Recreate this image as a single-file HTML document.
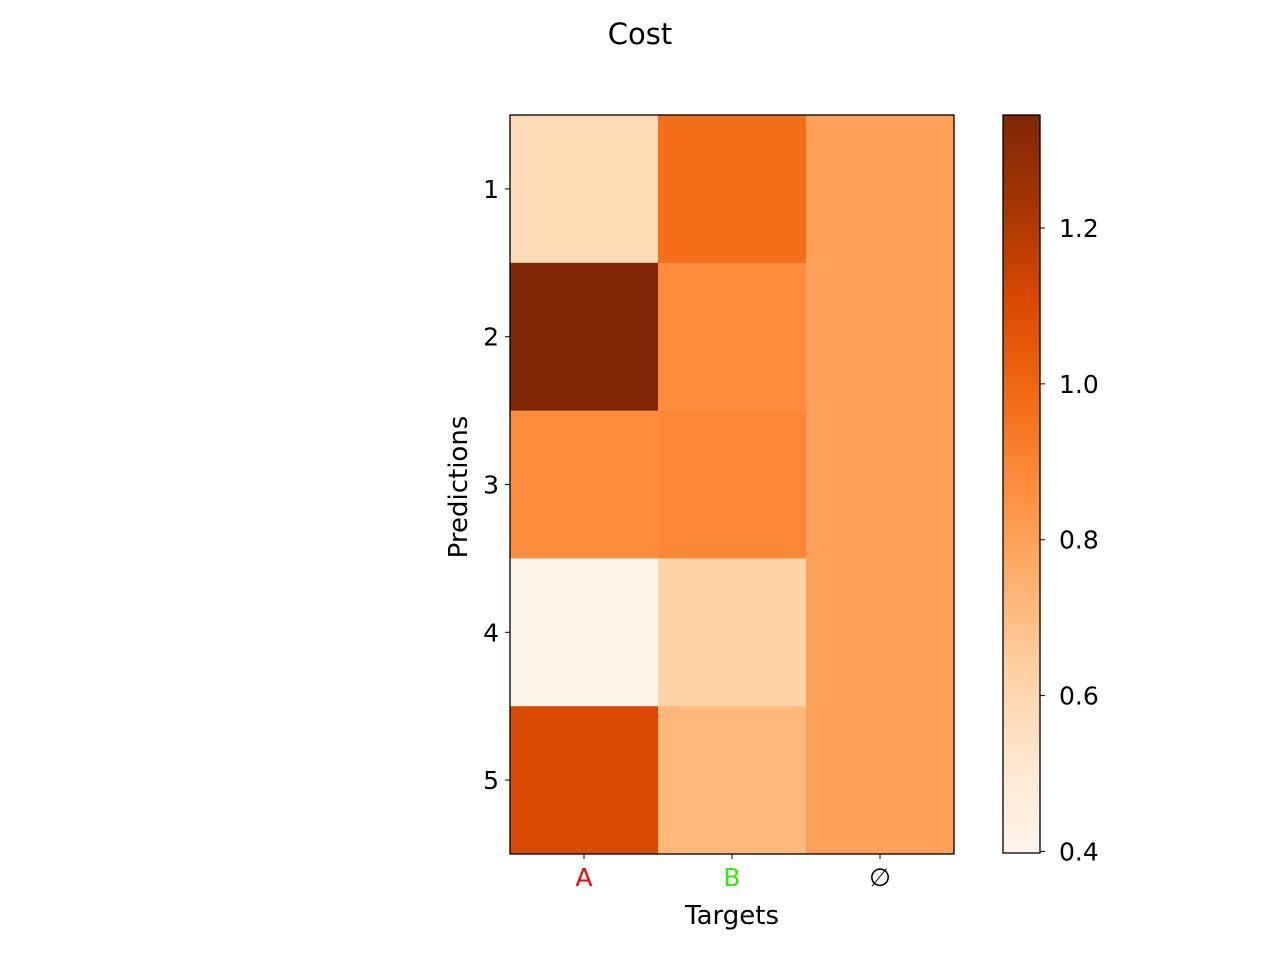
<!DOCTYPE html>
<html><head><meta charset="utf-8"><style>
body{margin:0;background:#fff;font-family:"Liberation Sans","DejaVu Sans",sans-serif;}
svg text{font-family:"DejaVu Sans","Liberation Sans",sans-serif;}
</style></head><body>
<svg id="chart" width="1280" height="960" xmlns="http://www.w3.org/2000/svg">
<defs><linearGradient id="cbgrad" x1="0" y1="1" x2="0" y2="0">
<stop offset="0" stop-color="#fff5eb"/><stop offset="0.125" stop-color="#fee6ce"/><stop offset="0.25" stop-color="#fdd0a2"/><stop offset="0.375" stop-color="#fdae6b"/><stop offset="0.5" stop-color="#fd8d3c"/><stop offset="0.625" stop-color="#f16913"/><stop offset="0.75" stop-color="#d94801"/><stop offset="0.875" stop-color="#a63603"/><stop offset="1" stop-color="#7f2704"/>
</linearGradient></defs>
<text x="640" y="44" text-anchor="middle" font-size="29">Cost</text>
<g id="cells"></g>
<rect x="510" y="115" width="444" height="739" fill="none" stroke="#000" stroke-width="1.3"/>
<g id="axes"></g>
<text x="732" y="924" text-anchor="middle" font-size="26">Targets</text>
<text x="467" y="487" text-anchor="middle" font-size="26" transform="rotate(-90 467 487)">Predictions</text>
<rect x="1003" y="115" width="37" height="738" fill="url(#cbgrad)" stroke="#000" stroke-width="1.3"/>
<g id="cbticks"></g>
</svg>
<script>
const categoriesX = ["A","B","∅"];
const categoriesXColors = ["#ff0000","#33ee00","#000000"];
const categoriesY = ["1","2","3","4","5"];
const values = [
 [0.58, 0.97, 0.80],
 [1.345, 0.87, 0.80],
 [0.87, 0.89, 0.80],
 [0.398, 0.62, 0.80],
 [1.10, 0.72, 0.80]
];
const cbTicks = [0.4, 0.6, 0.8, 1.0, 1.2];
const cbTickLabels = ["0.4","0.6","0.8","1.0","1.2"];
const vmin = 0.398, vmax = 1.345;

const NS = "http://www.w3.org/2000/svg";
const px0 = 510, pw = 444, py0 = 115, ph = 739;
const cw = pw / categoriesX.length, ch = ph / categoriesY.length;
const xCol = i => px0 + i * cw;
const yRow = j => py0 + j * ch;
const cbY = v => 853 - (v - vmin) / (vmax - vmin) * 738;
const stops = ["#fff5eb","#fee6ce","#fdd0a2","#fdae6b","#fd8d3c","#f16913","#d94801","#a63603","#7f2704"];
function hex(h){return [1,3,5].map(k=>parseInt(h.substr(k,2),16));}
function cmap(v){
  let t = Math.max(0, Math.min(1, (v - vmin) / (vmax - vmin))) * (stops.length - 1);
  let i = Math.min(Math.floor(t), stops.length - 2), f = t - i;
  const a = hex(stops[i]), b = hex(stops[i+1]);
  return "rgb(" + a.map((c,k)=>Math.round(c + (b[k]-c)*f)).join(",") + ")";
}
function mk(tag, attrs, parent){const e=document.createElementNS(NS,tag);for(const k in attrs)e.setAttribute(k,attrs[k]);parent.appendChild(e);return e;}
const cells = document.getElementById("cells"), axes = document.getElementById("axes"), cb = document.getElementById("cbticks");
values.forEach((row, j) => row.forEach((v, i) => {
  const r = mk("rect", {x: xCol(i), y: yRow(j), width: cw + 0.5, height: ch + 0.5, fill: cmap(v)}, cells);
  
  
}));
categoriesX.forEach((c, i) => {
  const cx = xCol(i) + cw / 2;
  const t = mk("line", {x1: cx, x2: cx, y1: 854, y2: 859, stroke: "#000"}, axes);
  
  
  const l = mk("text", {x: cx, y: 886, "text-anchor": "middle", "font-size": "25", fill: categoriesXColors[i]}, axes);
  l.textContent = c;
  
  
});
categoriesY.forEach((c, j) => {
  const cy = yRow(j) + ch / 2;
  const t = mk("line", {x1: 505, x2: 510, y1: cy, y2: cy, stroke: "#000"}, axes);
  
  
  const l = mk("text", {x: 499, y: cy + 9, "text-anchor": "end", "font-size": "25"}, axes);
  l.textContent = c;
  
  
});
cbTicks.forEach((v, k) => {
  const y = cbY(v);
  const t = mk("line", {x1: 1040, x2: 1045, y1: y, y2: y, stroke: "#000"}, cb);
  
  
  const l = mk("text", {x: 1059, y: y + 9, "font-size": "25"}, cb);
  l.textContent = cbTickLabels[k];
  
  
});
</script>
</body></html>
